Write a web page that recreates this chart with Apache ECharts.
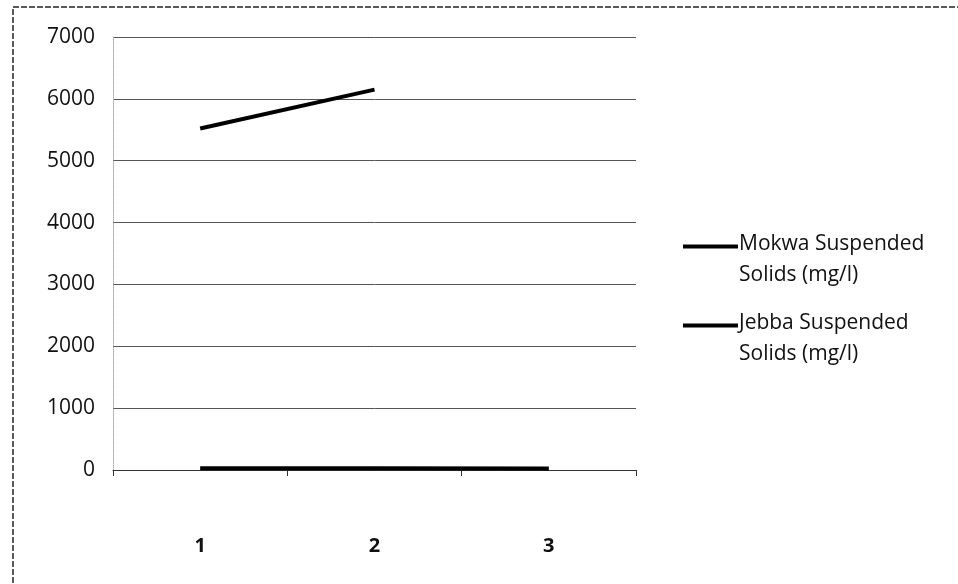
<!DOCTYPE html>
<html>
<head>
<meta charset="utf-8">
<style>
  html, body { margin: 0; padding: 0; background: #fff; }
  #chart { width: 958px; height: 584px; }
</style>
<script src="https://cdn.jsdelivr.net/npm/echarts@6/dist/echarts.min.js"></script>
</head>
<body>
<div id="chart"></div>
<script>
// Sampling points along the x axis
const categories = ['1', '2', '3'];
// Suspended solids, mg/l
const mokwaSolids = [5520, 6150, null];
const jebbaSolids = [30, 30, 25];
const seriesNames = ['Mokwa Suspended\nSolids (mg/l)', 'Jebba Suspended\nSolids (mg/l)'];
const yTicks = { min: 0, max: 7000, interval: 1000 };

const chart = echarts.init(document.getElementById('chart'), null, { renderer: 'canvas' });
const font = '"Open Sans", "Liberation Sans", sans-serif';

// Legend swatch: a short bar at the top of a taller box so it sits beside the first text line
const swatch = 'path://M0,0H55V4H0Z M0,31H0.01V31.01H0Z';

chart.setOption({
  animation: false,
  backgroundColor: '#ffffff',
  graphic: [{
    type: 'rect',
    shape: { x: 13, y: 7, width: 960, height: 600 },
    style: { fill: 'none', stroke: '#222', lineWidth: 1.5, lineDash: [6, 2] },
    silent: true
  }],
  grid: { left: 113, right: 322, top: 37, bottom: 114 },
  legend: {
    orient: 'vertical',
    left: 678,
    top: 224,
    itemWidth: 55,
    itemHeight: 31,
    itemGap: 17,
    icon: swatch,
    textStyle: { fontFamily: font, fontSize: 21, color: '#111', lineHeight: 31, padding: [0, 0, 0, -4] },
    data: seriesNames
  },
  xAxis: {
    type: 'category',
    data: categories,
    boundaryGap: true,
    axisLine: { show: true, lineStyle: { color: '#333', width: 1 } },
    axisTick: { show: true, length: 6, lineStyle: { color: '#333' } },
    axisLabel: { fontFamily: font, fontSize: 20, fontWeight: 'bold', color: '#111', margin: 66 },
    splitLine: { show: false }
  },
  yAxis: {
    type: 'value',
    min: yTicks.min,
    max: yTicks.max,
    interval: yTicks.interval,
    axisLine: { show: true, lineStyle: { color: '#aaa', width: 1, type: 'dotted' } },
    axisTick: { show: false },
    axisLabel: { fontFamily: font, fontSize: 21, color: '#111', margin: 18, formatter: v => String(v) },
    splitLine: { show: true, lineStyle: { color: '#555', width: 1 } }
  },
  series: [
    {
      name: seriesNames[0],
      type: 'line',
      data: mokwaSolids,
      showSymbol: false,
      lineStyle: { color: '#000', width: 4 },
      itemStyle: { color: '#000' }
    },
    {
      name: seriesNames[1],
      type: 'line',
      data: jebbaSolids,
      showSymbol: false,
      lineStyle: { color: '#000', width: 4 },
      itemStyle: { color: '#000' }
    }
  ]
});
</script>
</body>
</html>
